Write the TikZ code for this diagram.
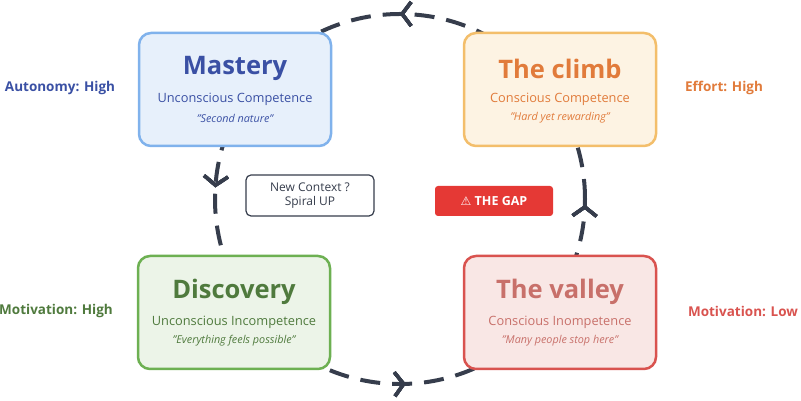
\documentclass[tikz,border=0pt]{standalone}
\usepackage{fontspec}
\setmainfont{Open Sans}
\newfontfamily\symfont{DejaVu Sans}
\usetikzlibrary{arrows.meta,decorations.markings}
\definecolor{ink}{HTML}{363D4C}
\definecolor{mastFill}{HTML}{E7F0FB}\definecolor{mastLine}{HTML}{80B2EC}\definecolor{mastText}{HTML}{3A50A4}
\definecolor{climbFill}{HTML}{FDF3E3}\definecolor{climbLine}{HTML}{F3BE6B}\definecolor{climbText}{HTML}{E17B3B}
\definecolor{discFill}{HTML}{ECF4E8}\definecolor{discLine}{HTML}{6DB052}\definecolor{discText}{HTML}{4F7A3D}
\definecolor{valFill}{HTML}{F9E7E5}\definecolor{valLine}{HTML}{D9534F}\definecolor{valText}{HTML}{C8706A}
\definecolor{gapRed}{HTML}{E53935}
\tikzset{
  stage/.style={draw, rounded corners=12pt, line width=2.5pt, minimum width=192pt, minimum height=113pt},
  title/.style={font=\bfseries\fontsize{25.5}{27}\selectfont},
  sub/.style={font=\fontsize{12.8}{14}\selectfont},
  quote/.style={font=\itshape\fontsize{10.8}{12}\selectfont},
  side/.style={font=\bfseries\fontsize{13.5}{15}\selectfont},
  barb/.style={decoration={markings, mark=at position #1 with {\arrow[line width=3.5pt]{Straight Barb[length=9pt,width=24pt]}}}, postaction=decorate}
}
\begin{document}
\begin{tikzpicture}[x=1pt,y=1pt]
  \useasboundingbox (0,0) rectangle (801,401);
  % cycle
  \coordinate (c) at (400,202);
  \draw[ink, line width=4pt, dash pattern=on 20pt off 12pt, barb=0.25, barb=0.49, barb=0.755, barb=0.995]
    (c) ++(0:185) arc[start angle=0, end angle=360, radius=185];
  % stages
  \node[stage, fill=mastFill, draw=mastLine] (mastery) at (235,311.5) {};
  \node[stage, fill=climbFill, draw=climbLine] (climb) at (560,311.5) {};
  \node[stage, fill=discFill, draw=discLine] (discovery) at (234,88.5) {};
  \node[stage, fill=valFill, draw=valLine] (valley) at (560,88.5) {};
  \node[title, text=mastText] at ([yshift=21]mastery.center) {Mastery};
  \node[sub, text=mastText] at ([yshift=-9.5]mastery.center) {Unconscious Competence};
  \node[quote, text=mastText] at ([yshift=-28.5]mastery.center) {"Second nature"};
  \node[title, text=climbText] at ([yshift=21]climb.center) {The climb};
  \node[sub, text=climbText] at ([yshift=-9.5]climb.center) {Conscious Competence};
  \node[quote, text=climbText] at ([yshift=-28.5]climb.center) {"Hard yet rewarding"};
  \node[title, text=discText] at ([yshift=21]discovery.center) {Discovery};
  \node[sub, text=discText] at ([yshift=-9.5]discovery.center) {Unconscious Incompetence};
  \node[quote, text=discText] at ([yshift=-28.5]discovery.center) {"Everything feels possible"};
  \node[title, text=valText] at ([yshift=21]valley.center) {The valley};
  \node[sub, text=valText] at ([yshift=-9.5]valley.center) {Conscious Inompetence};
  \node[quote, text=valText] at ([yshift=-28.5]valley.center) {"Many people stop here"};
  % side labels
  \node[side, text=mastText] (autonomy) at (60,313) {Autonomy: High};
  \node[side, text=climbText] (effort) at (724,313) {Effort: High};
  \node[side, text=discText] (motHigh) at (56,90) {Motivation: High};
  \node[side, text=valLine] (motLow) at (743,90) {Motivation: Low};
  % notes
  \node[draw=ink, fill=white, line width=1.2pt, rounded corners=5pt, minimum width=128pt, minimum height=41pt,
    align=center, text=ink, font=\fontsize{12}{14}\selectfont] (context) at (310,205.5) {New Context ?\\Spiral UP};
  \node[fill=gapRed, rounded corners=3pt, minimum width=118pt, minimum height=30pt, text=white,
    font=\bfseries\fontsize{12.5}{14}\selectfont] (gap) at (494,200) {{\symfont\fontsize{12}{14}\selectfont ⚠}\ THE GAP};
\end{tikzpicture}
\end{document}
